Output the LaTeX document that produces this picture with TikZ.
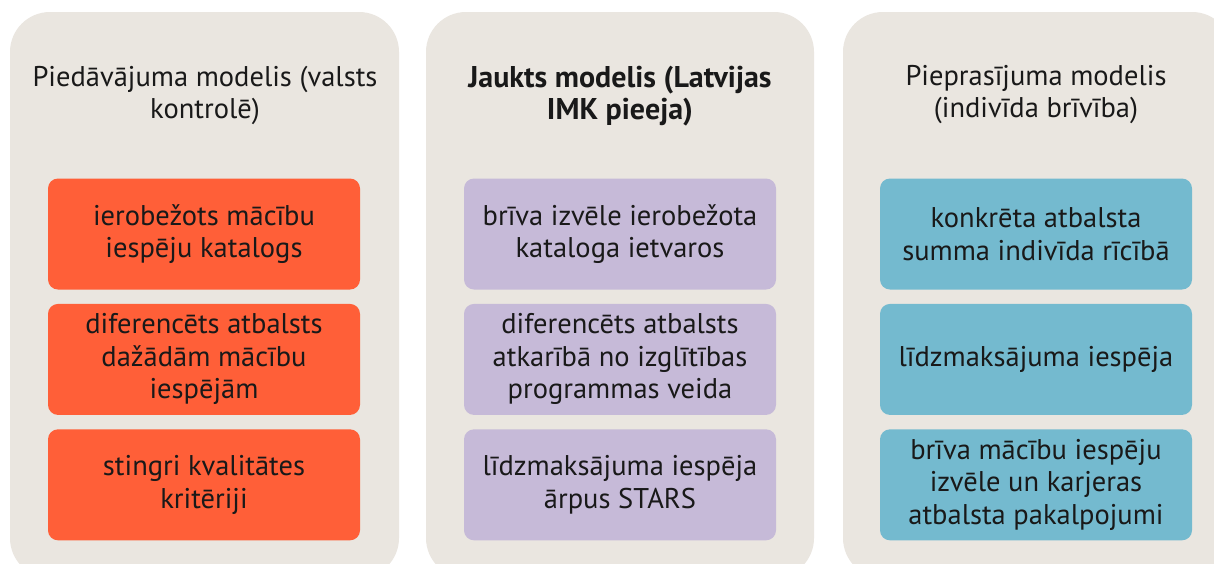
\documentclass[tikz,border=0pt]{standalone}
\usepackage{fontspec}
\setmainfont{PT Sans}
\usetikzlibrary{positioning}

\definecolor{panelgray}{HTML}{EAE6E0}
\definecolor{piedoranz}{HTML}{FF5F38}
\definecolor{jauktlila}{HTML}{C6BAD8}
\definecolor{pieprzils}{HTML}{74BACF}

\tikzset{
  panel/.style={fill=panelgray, rounded corners=40pt},
  virsraksts/.style={align=center, font=\fontsize{28.5}{32}\selectfont, text=black!90},
  kaste/.style={rounded corners=10pt, minimum width=312pt, minimum height=111pt,
    align=center, inner sep=0pt, font=\fontsize{28.5}{32.5}\selectfont, text=black!90},
}

\begin{document}
\begin{tikzpicture}[x=1pt,y=-1pt]
    \clip (0,0) rectangle (1214,563);
    \fill[white] (0,0) rectangle (1214,563);

    % background panels
    \fill[panel] (10,12) rectangle (399,578);
    \fill[panel] (426,12) rectangle (814,578);
    \fill[panel] (843,12) rectangle (1232,578);

    % piedavajuma modelis
    \node[virsraksts] (titleL) at (205,95) {Piedāvājuma modelis (valsts\\kontrolē)};
    \node[kaste, fill=piedoranz] (L1) at (204,234) {ierobežots mācību\\iespēju katalogs};
    \node[kaste, fill=piedoranz, below=14pt of L1] (L2) {diferencēts atbalsts\\dažādām mācību\\iespējām};
    \node[kaste, fill=piedoranz, below=14pt of L2] (L3) {stingri kvalitātes\\kritēriji};

    % jaukts modelis
    \node[virsraksts, font=\fontsize{30}{32}\selectfont\bfseries] (titleM) at (620,96) {Jaukts modelis (Latvijas\\IMK pieeja)};
    \node[kaste, fill=jauktlila] (M1) at (620,234) {brīva izvēle ierobežota\\kataloga ietvaros};
    \node[kaste, fill=jauktlila, below=14pt of M1] (M2) {diferencēts atbalsts\\atkarībā no izglītības\\programmas veida};
    \node[kaste, fill=jauktlila, below=14pt of M2] (M3) {līdzmaksājuma iespēja\\ārpus STARS};

    % pieprasijuma modelis
    \node[virsraksts] (titleR) at (1036,95) {Pieprasījuma modelis\\(indivīda brīvība)};
    \node[kaste, fill=pieprzils] (R1) at (1036,234) {konkrēta atbalsta\\summa indivīda rīcībā};
    \node[kaste, fill=pieprzils, below=14pt of R1] (R2) {līdzmaksājuma iespēja};
    \node[kaste, fill=pieprzils, below=14pt of R2] (R3) {brīva mācību iespēju\\izvēle un karjeras\\atbalsta pakalpojumi};
\end{tikzpicture}
\end{document}
